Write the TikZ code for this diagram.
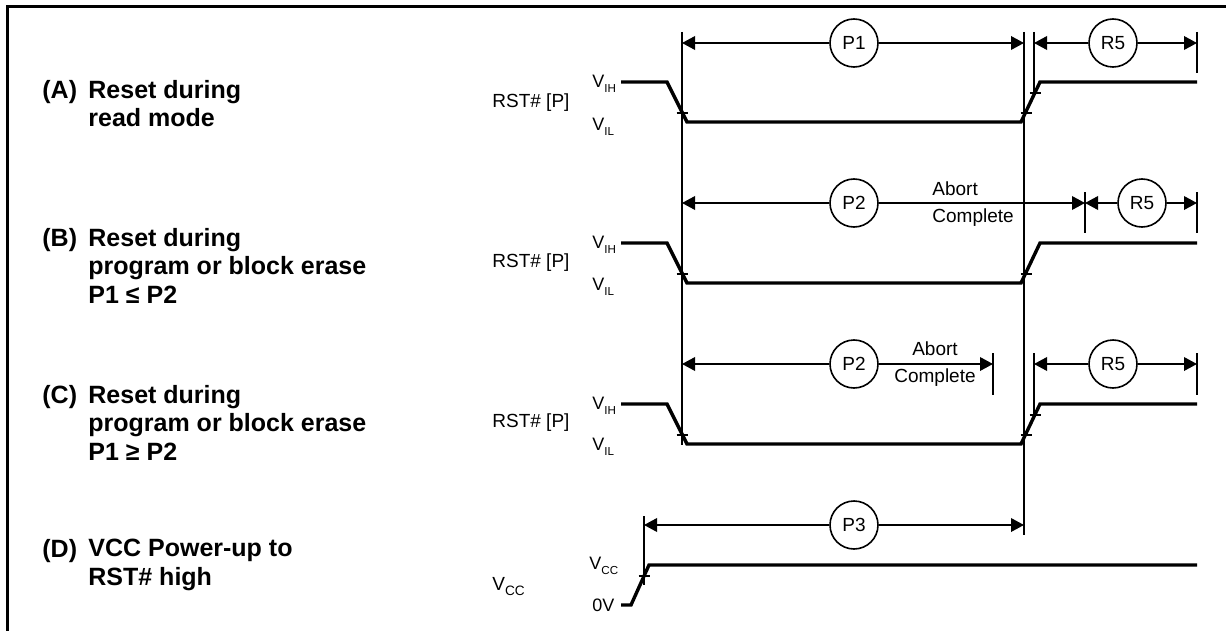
\documentclass[tikz,border=0pt]{standalone}
\usepackage{fontspec}
\setmainfont{Liberation Sans}
\usetikzlibrary{arrows.meta}

\newcommand{\lvl}[2]{#1\raisebox{-0.5ex}{\fontsize{5.8}{6}\selectfont #2}}
\newcommand{\tickmark}[2]{\draw[guide] (#1-5.5,#2) -- (#1+5.5,#2);}

\tikzset{
  wave/.style={line width=1.7pt, line join=miter},
  guide/.style={line width=0.8pt},
  span/.style={line width=0.8pt, -{Triangle[length=6.5pt,width=6.8pt]}},
  tag/.style={circle, draw, line width=0.8pt, minimum size=24pt, inner sep=0pt,
    font=\fontsize{9.5}{11}\selectfont},
  caption/.style={anchor=north west, align=left, inner sep=0pt,
    font=\fontsize{12.5}{14.2}\selectfont\bfseries},
  lvlabel/.style={anchor=west, inner sep=0pt, font=\fontsize{9}{10}\selectfont},
  sig/.style={anchor=west, inner sep=0pt, font=\fontsize{9.5}{11}\selectfont},
  note/.style={inner sep=0pt, font=\fontsize{9.5}{13.5}\selectfont},
}

\begin{document}
\begin{tikzpicture}[x=0.5pt,y=-0.5pt]
  \useasboundingbox (0,0) rectangle (1226,631);
  % frame
  \draw[line width=1.5pt, line join=miter] (7,631) -- (7,7) -- (1226,7);

  % case captions
  \node[caption] (tagA) at (42,80) {(A)};
  \node[caption] (capA) at (88,80) {Reset during\\read mode};
  \node[caption] (tagB) at (42,228) {(B)};
  \node[caption] (capB) at (88,228) {Reset during\\program or block erase\\P1 ≤ P2};
  \node[caption] (tagC) at (42,385) {(C)};
  \node[caption] (capC) at (88,385) {Reset during\\program or block erase\\P1 ≥ P2};
  \node[caption] (tagD) at (42,539) {(D)};
  \node[caption] (capD) at (88,539) {VCC Power-up to\\RST\# high};

  % signal names and levels
  \node[sig] (rstA) at (492,103) {RST\# [P]};
  \node[lvlabel] (ihA) at (592,84) {\lvl{V}{IH}};
  \node[lvlabel] (ilA) at (592,127) {\lvl{V}{IL}};
  \node[sig] (rstB) at (492,263) {RST\# [P]};
  \node[lvlabel] (ihB) at (592,245) {\lvl{V}{IH}};
  \node[lvlabel] (ilB) at (592,287) {\lvl{V}{IL}};
  \node[sig] (rstC) at (492,423) {RST\# [P]};
  \node[lvlabel] (ihC) at (592,406) {\lvl{V}{IH}};
  \node[lvlabel] (ilC) at (592,447) {\lvl{V}{IL}};
  \node[sig] (vccD) at (492,587) {V\raisebox{-0.5ex}{\fontsize{6.8}{7}\selectfont CC}};
  \node[lvlabel] (ccD) at (589,566) {\lvl{V}{CC}};
  \node[lvlabel] (zeroD) at (592,605) {0V};

  % waveforms
  \draw[wave] (621,82) -- (667,82) -- (687,122) -- (1021,122) -- (1040,82) -- (1197,82);
  \draw[wave] (621,243) -- (667,243) -- (687,283) -- (1021,283) -- (1040,243) -- (1197,243);
  \draw[wave] (621,404) -- (667,404) -- (687,444) -- (1021,444) -- (1040,404) -- (1197,404);
  \draw[wave] (621,605) -- (631,605) -- (649,565) -- (1197,565);
  \tickmark{682}{113} \tickmark{1026}{113} \tickmark{1035}{93}
  \tickmark{682}{274} \tickmark{1026}{274}
  \tickmark{682}{435} \tickmark{1026}{435} \tickmark{1035}{415}
  \tickmark{644}{576}

  % reference lines
  \coordinate (fallT) at (682,32);
  \coordinate (fallB) at (682,445);
  \coordinate (riseT) at (1024,32);
  \coordinate (riseB) at (1024,535);
  \draw[guide] (fallT) -- (fallB);
  \draw[guide] (riseT) -- (riseB);
  \draw[guide] (1034,32) -- (1034,93);
  \draw[guide] (1197,32) -- (1197,73);
  \draw[guide] (1085,192) -- (1085,233);
  \draw[guide] (1197,192) -- (1197,233);
  \draw[guide] (993,353) -- (993,395);
  \draw[guide] (1034,353) -- (1034,415);
  \draw[guide] (1197,353) -- (1197,395);
  \draw[guide] (644,516) -- (644,585);

  % (A) timings
  \node[tag] (p1) at (854,43) {P1};
  \coordinate (p1l) at (682,43);
  \coordinate (p1r) at (1024,43);
  \draw[span] (p1) -- (p1l);
  \draw[span] (p1) -- (p1r);
  \node[tag] (r5a) at (1113,43) {R5};
  \coordinate (r5al) at (1034,43);
  \coordinate (r5ar) at (1197,43);
  \draw[span] (r5a) -- (r5al);
  \draw[span] (r5a) -- (r5ar);

  % (B) timings
  \node[tag] (p2b) at (854,203) {P2};
  \coordinate (p2bl) at (682,203);
  \coordinate (p2br) at (1085,203);
  \draw[span] (p2b) -- (p2bl);
  \draw[span] (p2b) -- (p2br);
  \node[note, anchor=west, align=left] (abortB) at (932,204) {Abort\\Complete};
  \node[tag] (r5b) at (1142,203) {R5};
  \coordinate (r5bl) at (1085,203);
  \coordinate (r5br) at (1197,203);
  \draw[span] (r5b) -- (r5bl);
  \draw[span] (r5b) -- (r5br);

  % (C) timings
  \node[tag] (p2c) at (854,364) {P2};
  \coordinate (p2cl) at (682,364);
  \coordinate (p2cr) at (993,364);
  \draw[span] (p2c) -- (p2cl);
  \draw[span] (p2c) -- (p2cr);
  \node[note, align=center] (abortC) at (935,364) {Abort\\Complete};
  \node[tag] (r5c) at (1113,364) {R5};
  \coordinate (r5cl) at (1034,364);
  \coordinate (r5cr) at (1197,364);
  \draw[span] (r5c) -- (r5cl);
  \draw[span] (r5c) -- (r5cr);

  % (D) timing
  \node[tag] (p3) at (854,525) {P3};
  \coordinate (p3l) at (644,525);
  \coordinate (p3r) at (1024,525);
  \draw[span] (p3) -- (p3l);
  \draw[span] (p3) -- (p3r);
\end{tikzpicture}
\end{document}
